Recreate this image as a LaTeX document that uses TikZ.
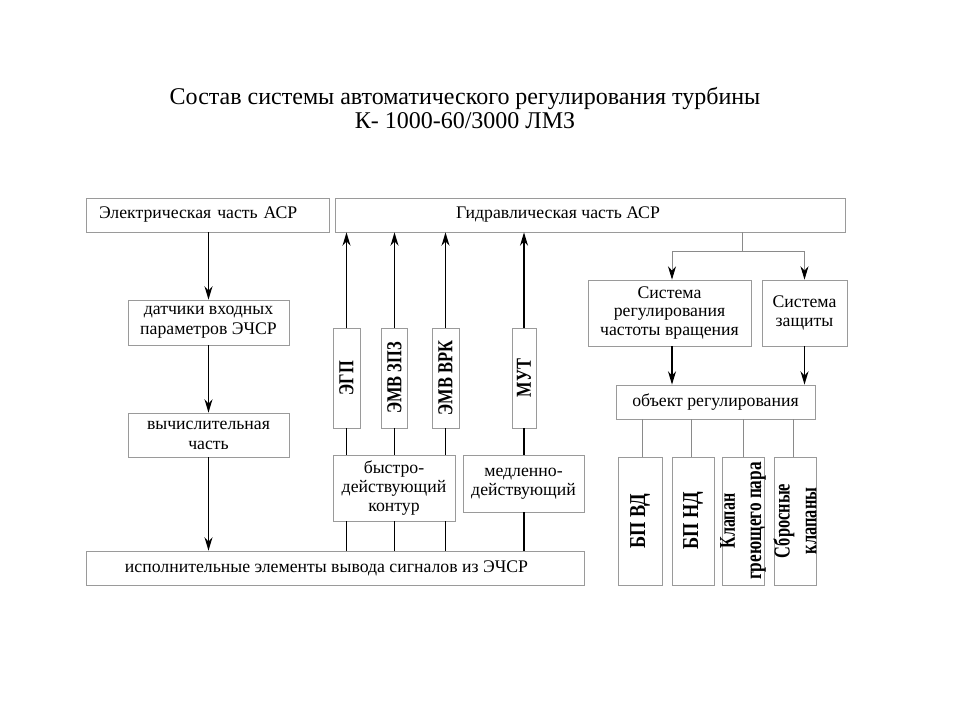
\documentclass[tikz,border=0pt]{standalone}
\usepackage{fontspec}
\setmainfont{Liberation Serif}
\usepackage{graphicx}
\usetikzlibrary{arrows.meta}
\definecolor{boxgray}{HTML}{9A9A9A}
\definecolor{linegray}{HTML}{8A8A8A}
\begin{document}
\begin{tikzpicture}[x=0.75pt,y=-0.75pt,
  box/.style={draw=boxgray, line width=0.6pt, rectangle, inner sep=0pt, align=center,
    font=\fontsize{13.3}{14}\selectfont},
  wh/.style 2 args={minimum width=#1*0.75pt, minimum height=#2*0.75pt},
  txt/.style={inner sep=0pt, align=center, font=\fontsize{13.3}{14}\selectfont},
  vtxt/.style={inner sep=0pt, align=center, rotate=90, yscale=1.3, font=\bfseries\fontsize{12.3}{14}\selectfont},
  btxt/.style={inner sep=0pt, align=center, rotate=90, yscale=1.24, font=\bfseries\fontsize{13.75}{16}\selectfont},
  arr/.style={line width=1pt, -{Stealth[length=10pt,width=6pt]}},
  bl/.style={line width=1pt},
  gl/.style={draw=linegray, line width=0.6pt},
  garr/.style={draw=linegray, line width=0.6pt, -{Stealth[length=10pt,width=6pt,color=black,fill=black]}}
]
\useasboundingbox (0,0) rectangle (960,720);
% title
\node[txt, font=\fontsize{18}{17.3}\selectfont] (title) at (465,108) {Состав системы автоматического регулирования турбины\\К- 1000-60/3000 ЛМЗ};
% top boxes
\node[box, wh={243}{34}, text width=217*0.75pt, align=left, inner xsep=13*0.75pt] (el) at (207.5,215) {Электрическая часть АСР};
\node[box, wh={510}{34}] (hyd) at (590,215) {};
\node[txt] (hydt) at (558,215) {Гидравлическая часть АСР};
% left column
\node[box, wh={161}{45}, font=\fontsize{13.3}{15}\selectfont] (dat) at (208.5,322.5) {датчики входных\\параметров ЭЧСР};
\node[box, wh={161}{44}, font=\fontsize{13.3}{15}\selectfont] (calc) at (208.5,435) {вычислительная\\часть};
\node[box, wh={498}{34}] (isp) at (335,568) {};
\node[txt] (ispt) at (326.5,568) {исполнительные элементы вывода сигналов из ЭЧСР};
\draw[arr] (el.south -| dat) -- (dat.north);
\draw[arr] (dat.south) -- (calc.north);
\draw[arr] (calc.south) -- (calc.south |- isp.north);
% middle
\node[box, wh={27}{100}] (egp) at (346.5,378) {};
\node[vtxt] at (egp) {ЭГП};
\node[box, wh={26}{100}] (zpz) at (394.5,378) {};
\node[vtxt] at (zpz) {ЭМВ ЗПЗ};
\node[box, wh={27}{100}] (vrk) at (445.5,378) {};
\node[vtxt] at (vrk) {ЭМВ ВРК};
\node[box, wh={24}{100}] (mut) at (524,378) {};
\node[vtxt] at (mut) {МУТ};
\node[box, wh={122}{66}] (fast) at (394,488) {быстро-\\действующий\\контур};
\node[box, wh={121}{57}] (slow) at (523.5,483.5) {медленно-\\действующий};
\foreach \b in {egp,zpz,vrk,mut}{
  \draw[arr] (\b.north) -- (\b.north |- hyd.south);
}
\foreach \b in {egp,zpz,vrk}{
  \draw[bl] (\b.south) -- (\b.south |- fast.north);
  \draw[bl] (\b.south |- fast.south) -- (\b.south |- isp.north);
}
\draw[bl] (mut.south) -- (mut.south |- slow.north);
\draw[bl] (mut.south |- slow.south) -- (mut.south |- isp.north);
% right
\node[box, wh={163}{66}] (freq) at (669.5,313) {Система\\регулирования\\частоты вращения};
\node[box, wh={85}{66}] (prot) at (804.5,313) {Система\\защиты};
\coordinate (hb) at (742,251);
\draw[gl] (hyd.south -| hb) -- (hb);
\draw[garr] (hb) -| (freq.north -| 672,0);
\draw[garr] (hb) -| (prot.north);
\node[box, wh={199}{34}] (obj) at (715.5,402) {объект регулирования};
\draw[arr] (freq.south -| 672,0) -- (obj.north -| 672,0);
\draw[arr] (prot.south) -- (obj.north -| prot);
\node[box, wh={44}{128}] (bpvd) at (640,521) {};
\node[btxt] at (bpvd) {БП ВД};
\node[box, wh={42}{128}] (bpnd) at (693,521) {};
\node[btxt] at (bpnd) {БП НД};
\node[box, wh={42}{128}] (klap) at (743,521) {};
\node[btxt, yscale=1.13, font=\bfseries\fontsize{12}{14}\selectfont] at (klap) {Клапан\\\scalebox{1.08}[1]{греющего пара}};
\node[box, wh={42}{128}] (sbr) at (795,521) {};
\node[btxt, yscale=1.12, font=\bfseries\fontsize{12.3}{14.5}\selectfont] at (sbr) {Сбросные\\клапаны};
\draw[gl] (obj.south -| 642,0) -- (bpvd.north -| 642,0);
\draw[gl] (obj.south -| 691,0) -- (bpnd.north -| 691,0);
\draw[gl] (obj.south -| klap) -- (klap.north);
\draw[gl] (obj.south -| 793,0) -- (sbr.north -| 793,0);
\end{tikzpicture}
\end{document}
